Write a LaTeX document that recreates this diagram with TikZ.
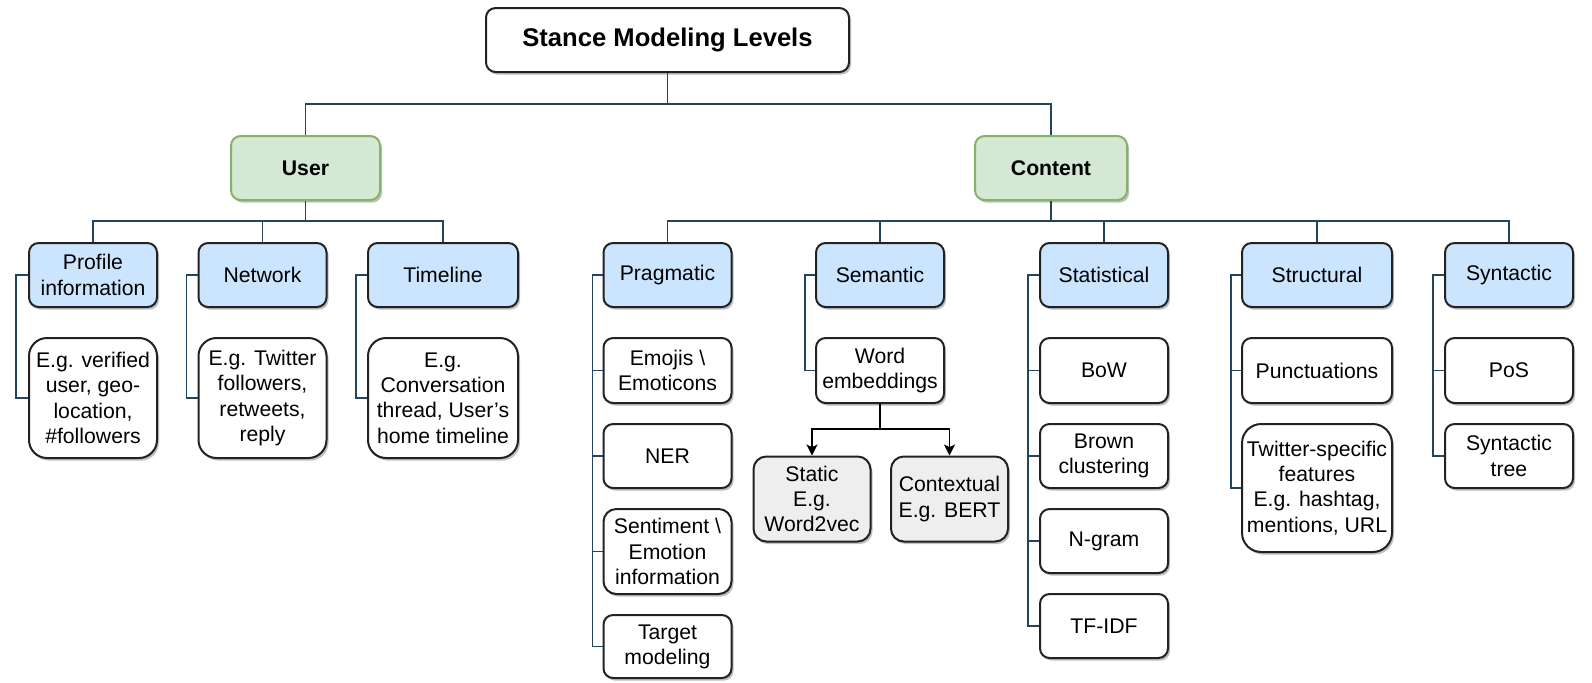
\documentclass[tikz,border=0pt]{standalone}
\usepackage{fontspec}
\setmainfont{Liberation Sans}
\usetikzlibrary{arrows.meta,shadows}
\definecolor{connc}{RGB}{35,68,93}
\definecolor{bluefill}{HTML}{CCE5FF}
\definecolor{boxline}{HTML}{222222}
\definecolor{greenfill}{HTML}{D5E8D4}
\definecolor{greenline}{HTML}{82B366}
\definecolor{grayfill}{HTML}{EEEEEE}
\begin{document}
\begin{tikzpicture}[x=0.5pt,y=-0.5pt,
  base/.style={draw=boxline, line width=1pt, align=center, inner sep=0pt,
    font=\fontsize{10.6}{12.6}\selectfont,
    drop shadow={shadow xshift=1pt,shadow yshift=-1.3pt,opacity=0.25,fill=black}},
  std/.style={base, rounded corners=4.8pt, minimum width=64pt, minimum height=32pt},
  bluebox/.style={std, fill=bluefill},
  whitebox/.style={std, fill=white},
  greenbox/.style={base, fill=greenfill, draw=greenline, rounded corners=4.8pt,
    minimum height=32pt, font=\fontsize{10.6}{12.6}\selectfont\bfseries},
  exbox/.style={base, fill=white, rounded corners=9pt, minimum width=64pt, minimum height=60pt},
  graybox/.style={base, fill=grayfill, rounded corners=6.4pt, minimum height=42.5pt},
  connline/.style={draw=connc, line width=0.95pt},
  arrowline/.style={draw=black, line width=0.95pt, -{Stealth[length=5.5pt,width=5.5pt,inset=1.3pt]}}
]
\useasboundingbox (0,0) rectangle (1592,682);

% root
\node[std, fill=white, minimum width=181.5pt, font=\fontsize{12.8}{15}\selectfont\bfseries] (top) at (667.5,40) {Stance Modeling Levels};

% level 1
\node[greenbox, minimum width=74.5pt] (user) at (305.5,168) {User};
\node[greenbox, minimum width=76pt] (content) at (1051,168) {Content};

% user children
\node[bluebox] (profile) at (93,275) {Profile\\information};
\node[bluebox] (network) at (262.5,275) {Network};
\node[bluebox, minimum width=75pt] (timeline) at (443,275) {Timeline};
\node[exbox] (profileEx) at (93,398) {E.g. verified\\user, geo-\\location,\\\#followers};
\node[exbox] (networkEx) at (262.5,398) {E.g. Twitter\\followers,\\retweets,\\reply};
\node[exbox, minimum width=75pt] (timelineEx) at (443,398) {E.g.\\Conversation\\thread, User's\\home timeline};

% content children
\node[bluebox] (pragmatic) at (667.5,275) {Pragmatic};
\node[bluebox] (semantic) at (880,275) {Semantic};
\node[bluebox] (statistical) at (1104,275) {Statistical};
\node[bluebox, minimum width=75pt] (structural) at (1317,275) {Structural};
\node[bluebox] (syntactic) at (1509,275) {Syntactic};

% pragmatic
\node[whitebox, minimum height=32.5pt] (emojis) at (667.5,370.5) {Emojis \textbackslash\\Emoticons};
\node[whitebox] (ner) at (667.5,456) {NER};
\node[whitebox, minimum height=42.5pt, rounded corners=6.4pt] (sentiment) at (667.5,551.5) {Sentiment \textbackslash\\Emotion\\information};
\node[whitebox, minimum height=31.5pt] (target) at (667.5,646.5) {Target\\modeling};

% semantic
\node[whitebox, minimum height=32.5pt] (wordemb) at (880,370.5) {Word\\embeddings};
\node[graybox, minimum width=58.5pt] (static) at (812,499) {Static\\E.g.\\Word2vec};
\node[graybox, minimum width=58.5pt] (contextual) at (949.5,499) {Contextual\\E.g. BERT};

% statistical
\node[whitebox, minimum height=32.5pt] (bow) at (1104,370.5) {BoW};
\node[whitebox] (brown) at (1104,456) {Brown\\clustering};
\node[whitebox] (ngram) at (1104,541) {N-gram};
\node[whitebox] (tfidf) at (1104,626) {TF-IDF};

% structural
\node[whitebox, minimum width=75pt, minimum height=32.5pt] (punct) at (1317,370.5) {Punctuations};
\node[base, fill=white, rounded corners=9.6pt, minimum width=75pt, minimum height=64pt] (twitter) at (1317,488) {Twitter-specific\\features\\E.g. hashtag,\\mentions, URL};

% syntactic
\node[whitebox, minimum height=32.5pt] (pos) at (1509,370.5) {PoS};
\node[whitebox] (syntree) at (1509,456) {Syntactic\\tree};

% tree connectors
\draw[connline] (top.south) -- (top.south |- 0,104) -| (user.north);
\draw[connline] (top.south |- 0,104) -| (content.north);

\draw[connline] (user.south) -- (user.south |- 0,221) -| (profile.north);
\draw[connline] (user.south |- 0,221) -| (network.north);
\draw[connline] (user.south |- 0,221) -| (timeline.north);

\draw[connline] (content.south) -- (content.south |- 0,221) -| (pragmatic.north);
\draw[connline] (content.south |- 0,221) -| (semantic.north);
\draw[connline] (content.south |- 0,221) -| (statistical.north);
\draw[connline] (content.south |- 0,221) -| (structural.north);
\draw[connline] (content.south |- 0,221) -| (syntactic.north);

% side connectors
\draw[connline] (profile.west) -- ++(-12,0) |- (profileEx.west);
\draw[connline] (network.west) -- ++(-11,0) |- (networkEx.west);
\draw[connline] (timeline.west) -- ++(-11,0) |- (timelineEx.west);

\draw[connline] (pragmatic.west) -- ++(-10,0) |- (target.west);
\draw[connline] (emojis.west) -- ++(-10,0);
\draw[connline] (ner.west) -- ++(-10,0);
\draw[connline] (sentiment.west) -- ++(-10,0);

\draw[connline] (semantic.west) -- ++(-10,0) |- (wordemb.west);

\draw[connline] (statistical.west) -- ++(-11,0) |- (tfidf.west);
\draw[connline] (bow.west) -- ++(-11,0);
\draw[connline] (brown.west) -- ++(-11,0);
\draw[connline] (ngram.west) -- ++(-11,0);

\draw[connline] (structural.west) -- ++(-10,0) |- (twitter.west);
\draw[connline] (punct.west) -- ++(-10,0);

\draw[connline] (syntactic.west) -- ++(-11,0) |- (syntree.west);
\draw[connline] (pos.west) -- ++(-11,0);

% arrows
\draw[arrowline] (wordemb.south) -- (wordemb.south |- 0,429) -| (static.north);
\draw[arrowline] (wordemb.south |- 0,429) -| (contextual.north);
\end{tikzpicture}
\end{document}
